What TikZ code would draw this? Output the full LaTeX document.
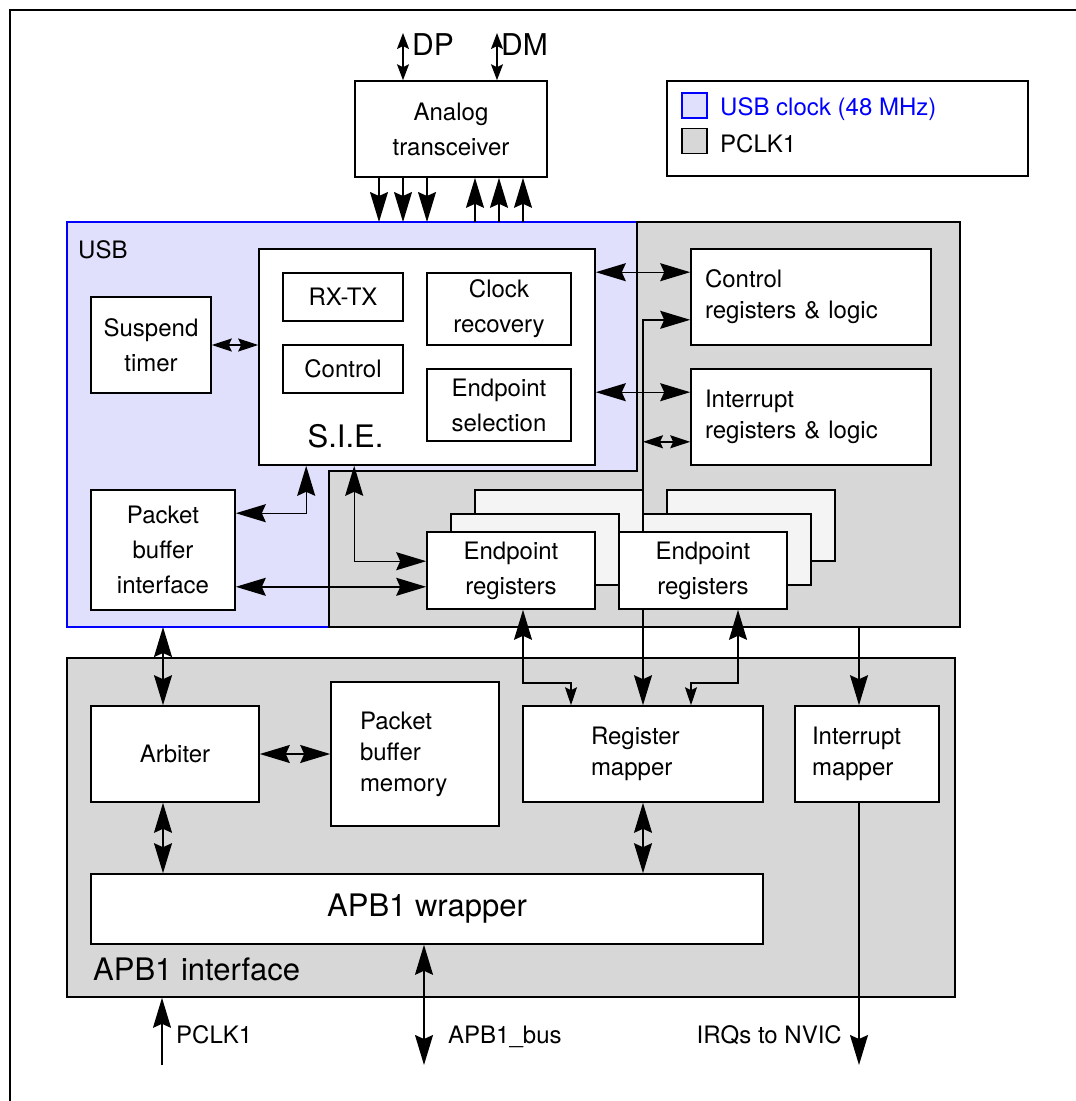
\documentclass[tikz,border=0pt]{standalone}
\usepackage{fontspec}
\setmainfont{TeX Gyre Heros}
\usetikzlibrary{arrows.meta}

\pgfdeclarelayer{back}
\pgfdeclarelayer{wires}
\pgfsetlayers{back,wires,main}

\definecolor{usbclk}{RGB}{224,224,252}
\definecolor{pclkbg}{RGB}{215,215,215}
\definecolor{stackbg}{RGB}{244,244,244}

\begin{document}
\begin{tikzpicture}[
  x=1pt, y=-1pt,
  font=\fontsize{24}{35}\selectfont,
  blk/.style  ={draw, fill=white, line width=1.6pt, inner sep=0pt, align=center},
  lblk/.style ={blk, align=left, font=\fontsize{24}{31}\selectfont},
  stack/.style={draw, fill=stackbg, line width=1.6pt, inner sep=0pt,
                minimum width=168pt, minimum height=71pt},
  txt/.style  ={inner sep=0pt},
  bigtxt/.style={txt, font=\fontsize{31}{37}\selectfont},
  usbreg/.style={draw=blue, fill=usbclk, line width=1.6pt},
  pclkreg/.style={draw, fill=pclkbg, line width=1.6pt, inner sep=0pt},
  wire/.style ={line width=1.4pt},
  dbl/.style  ={wire, {Stealth[length=30pt,width=18pt,inset=4pt]}-{Stealth[length=30pt,width=18pt,inset=4pt]}},
  dsm/.style  ={wire, {Stealth[length=20pt,width=13pt,inset=3pt]}-{Stealth[length=20pt,width=13pt,inset=3pt]}},
  ob/.style   ={wire, -{Stealth[length=30pt,width=18pt,inset=4pt]}},
  bs/.style   ={wire, {Stealth[length=30pt,width=18pt,inset=4pt]}-{Stealth[length=18pt,width=12pt,inset=3pt]}},
  pin/.style  ={wire, {Stealth[length=16pt,width=12pt,inset=3pt]}-{Stealth[length=16pt,width=12pt,inset=3pt]}},
]
\useasboundingbox (0,0) rectangle (1076,1101);
\clip (0,0) rectangle (1076,1101);

% ---- clock domains ----
\begin{pgfonlayer}{back}
\draw[line width=2pt] (10,1120) |- (1090,10);
\draw[usbreg] (67,222) -- (637,222) -- (637,471) -- (329,471) -- (329,627) -- (67,627) -- cycle;
\draw[pclkreg] (637,222) -- (960,222) -- (960,627) -- (329,627) -- (329,471) -- (637,471) -- cycle;
\node[pclkreg, minimum width=888pt, minimum height=339pt] (apbif) at (511,827.5) {};
\end{pgfonlayer}

\node[txt, anchor=base west] (usblbl) at (78,258) {USB};
\node[bigtxt, anchor=base west] (apblbl) at (93,980) {APB1 interface};

% ---- transceiver & legend ----
\node[blk, minimum width=192pt, minimum height=96pt] (atr) at (451,129) {Analog\\transceiver};
\node[txt, anchor=base west, font=\fontsize{30}{36}\selectfont] (dplbl) at (412,55) {DP};
\node[txt, anchor=base west, font=\fontsize{30}{36}\selectfont] (dmlbl) at (501,55) {DM};

\node[blk, minimum width=361pt, minimum height=95pt] (legend) at (847.5,128.5) {};
\node[usbreg, inner sep=0pt, minimum size=25pt] (swusb) at (694.5,105.5) {};
\node[pclkreg, minimum size=25pt] (swpclk) at (694.5,141) {};
\node[txt, anchor=base west, text=blue] (legusb) at (720,115) {USB clock (48 MHz)};
\node[txt, anchor=base west] (legpclk) at (720,152) {PCLK1};

% ---- USB block ----
\node[blk, minimum width=336pt, minimum height=216pt] (sie) at (427,357) {};
\node[blk, minimum width=120pt, minimum height=48pt] (rxtx) at (343,297) {RX-TX};
\node[blk, minimum width=120pt, minimum height=48pt] (sctl) at (343,369) {Control};
\node[blk, minimum width=144pt, minimum height=72pt] (clkrec) at (499,309) {Clock\\recovery};
\node[blk, minimum width=144pt, minimum height=72pt] (epsel) at (499,405) {Endpoint\\selection};
\node[bigtxt, anchor=base] (sielbl) at (345.5,447) {S.I.E.};

\node[blk, minimum width=120pt, minimum height=96pt] (susp) at (151,345) {Suspend\\timer};
\node[blk, minimum width=144pt, minimum height=120pt] (pbi) at (163,550) {Packet\\buffer\\interface};

\node[lblk, inner xsep=14pt, text width=212pt, minimum height=96pt] (ctlreg) at (811,297) {Control\\registers \& logic};
\node[lblk, inner xsep=14pt, text width=212pt, minimum height=96pt] (irqreg) at (811,417) {Interrupt\\registers \& logic};

% endpoint register stacks
\node[stack] (epa2) at (559,525.5) {};
\node[stack] (epa1) at (535,549.5) {};
\node[blk, minimum width=168pt, minimum height=77pt] (epa) at (511,570.5) {Endpoint\\registers};
\node[stack] (epb2) at (751,525.5) {};
\node[stack] (epb1) at (727,549.5) {};
\node[blk, minimum width=168pt, minimum height=77pt] (epb) at (703,570.5) {Endpoint\\registers};

% ---- APB1 interface ----
\node[blk, minimum width=168pt, minimum height=96pt] (arb) at (175,754) {Arbiter};
\node[lblk, inner xsep=29pt, text width=110pt, minimum height=144pt] (pbm) at (415,754) {Packet\\buffer\\memory};
\node[lblk, inner xsep=68pt, text width=104pt, minimum height=96pt] (rmap) at (643,754) {Register\\mapper};
\node[lblk, inner xsep=17pt, text width=110pt, minimum height=96pt] (imap) at (867,754) {Interrupt\\mapper};
\node[blk, minimum width=672pt, minimum height=70pt, font=\fontsize{31}{37}\selectfont] (wrap) at (427,909) {APB1 wrapper};

\node[txt, anchor=base west] (pclklbl) at (176,1043) {PCLK1};
\node[txt, anchor=base west] (buslbl) at (448,1043) {APB1\_bus};
\node[txt, anchor=base east] (irqlbl) at (842,1043) {IRQs to NVIC};

% ---- connectors ----
\begin{pgfonlayer}{wires}
\coordinate (dpend) at (403,33);
\coordinate (dmend) at (497,33);
\draw[pin] (dpend) -- (dpend |- atr.north);
\draw[pin] (dmend) -- (dmend |- atr.north);

\coordinate (usbtop) at (451,222);
\foreach \dx in {-72,-48,-24} {
  \coordinate (tx) at ([xshift=\dx pt]atr.south);
  \draw[ob] (tx) -- (tx |- usbtop);
}
\foreach \dx in {24,48,72} {
  \coordinate (rx) at ([xshift=\dx pt]atr.south);
  \draw[ob] (rx |- usbtop) -- (rx);
}

\draw[dsm] (susp.east) -- (susp.east -| sie.west);
\coordinate (ctlin) at ([yshift=-24pt]ctlreg.north west);
\draw[dbl] (ctlin -| sie.east) -- (ctlin);
\coordinate (irqin) at ([yshift=-24pt]irqreg.north west);
\draw[dbl] (irqin -| sie.east) -- (irqin);

\coordinate (ctlbus) at ([yshift=26pt]ctlreg.south west);
\draw[dbl] (rmap.north) |- (ctlbus);
\coordinate (irqbus) at ([yshift=24pt]irqreg.south west);
\draw[dsm] (irqbus -| rmap.north) -- (irqbus);

\coordinate (pbitop) at ([yshift=-24pt]pbi.north east);
\draw[dbl] (pbitop) -| ([xshift=48pt]sie.south west);
\coordinate (pbibot) at ([yshift=24pt]pbi.south east);
\draw[dbl] (pbibot) -- (pbibot -| epa.west);
\draw[dbl] ([xshift=96pt]sie.south west) |- ([yshift=-30pt]epa.north west);

\draw[bs] ([xshift=12pt]epa.south) -- ++(0,73) -| ([xshift=-72pt]rmap.north);
\draw[bs] ([xshift=35pt]epb.south) -- ++(0,73) -| ([xshift=48pt]rmap.north);

\coordinate (irqtap) at (859,627);
\draw[ob] (irqtap) -- (irqtap |- imap.north);
\coordinate (nvic) at (859,1065);
\draw[ob] (nvic |- imap.south) -- (nvic);

\coordinate (usbbot) at (163,627);
\draw[dbl] (usbbot) -- (usbbot |- arb.north);
\draw[dbl] (usbbot |- arb.south) -- (usbbot |- wrap.north);
\draw[dbl] (arb.east) -- (pbm.west);
\draw[dbl] (rmap.south) -- (rmap.south |- wrap.north);

\coordinate (busend) at (424,1065);
\draw[dbl] (busend |- wrap.south) -- (busend);
\coordinate (pclkin) at (162,1065);
\draw[ob] (pclkin) -- (pclkin |- apbif.south);
\end{pgfonlayer}

\end{tikzpicture}
\end{document}
